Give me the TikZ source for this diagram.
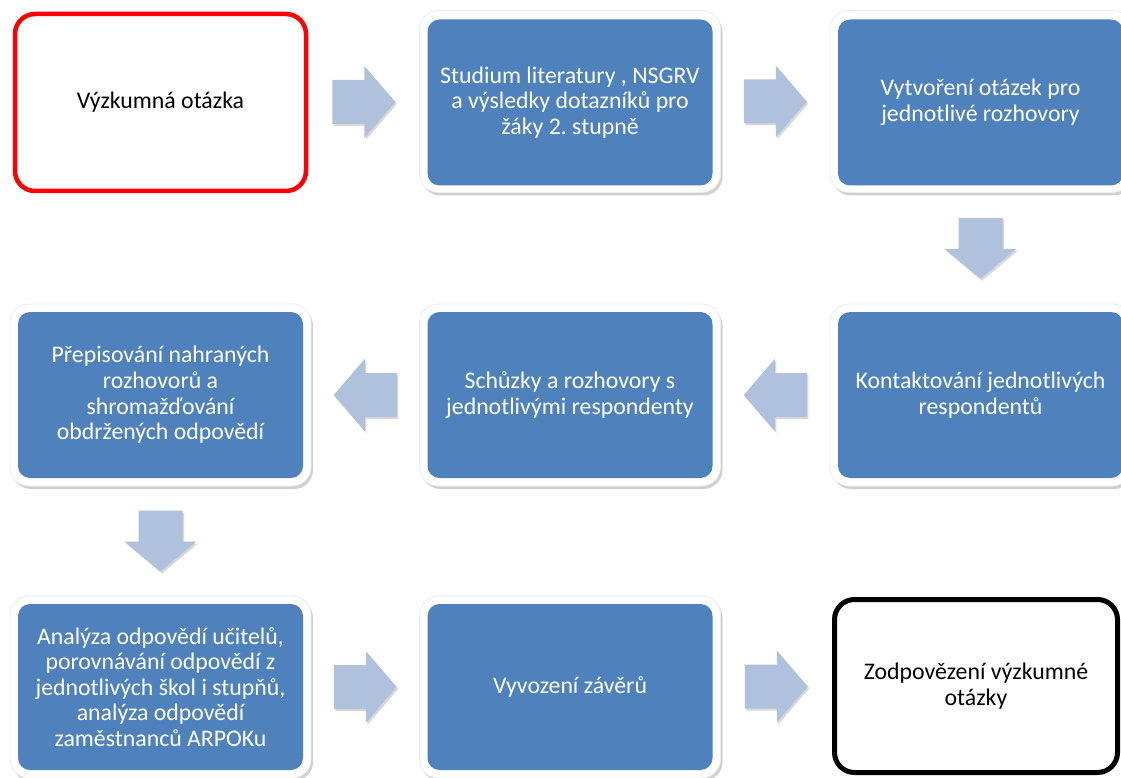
\documentclass[tikz,border=0pt]{standalone}
\usepackage{fontspec}
\setmainfont{Carlito}
\frenchspacing
\usetikzlibrary{shadows,calc}
\definecolor{boxblue}{RGB}{79,129,189}
\definecolor{arrblue}{RGB}{176,193,222}
\definecolor{redline}{RGB}{255,0,0}
\tikzset{
  txt/.style={font=\fontsize{23.8}{25.6}\selectfont, align=center},
  frame/.style={fill=white, draw=black!7, line width=0.8pt, rounded corners=19pt, minimum width=301pt, minimum height=182pt, inner sep=0pt, outer sep=0pt,
     drop shadow={shadow xshift=2pt, shadow yshift=-3pt, opacity=0.3, fill=black!60}},
  bluebox/.style={txt, fill=boxblue, draw=none, rounded corners=12pt, minimum width=285pt, minimum height=166pt, inner sep=0pt, outer sep=0pt, text=white},
  redbox/.style={txt, draw=redline, line width=4.5pt, fill=white, rounded corners=20pt, minimum width=291pt, minimum height=177pt, inner sep=0pt},
  blackbox/.style={txt, draw=black, line width=5pt, fill=white, rounded corners=20pt, minimum width=283pt, minimum height=173pt, inner sep=0pt},
  arr/.style={fill=arrblue, draw=none, drop shadow={shadow xshift=1.5pt, shadow yshift=-2pt, opacity=0.25, fill=black!60}},
  rarr/.pic={\path[arr] (-31.5,-22) -- (0.5,-22) -- (0.5,-36) -- (31.5,0) -- (0.5,36) -- (0.5,22) -- (-31.5,22) -- cycle;},
  larr/.pic={\path[arr] (31.5,-22) -- (-0.5,-22) -- (-0.5,-36) -- (-31.5,0) -- (-0.5,36) -- (-0.5,22) -- (31.5,22) -- cycle;},
  darr/.pic={\path[arr] (-22,-30.5) -- (-22,0.5) -- (-36,0.5) -- (0,30.5) -- (36,0.5) -- (22,0.5) -- (22,-30.5) -- cycle;}
}
\begin{document}
\begin{tikzpicture}[x=1pt,y=-1pt]
\useasboundingbox[fill=white] (0,0) rectangle (1121,778);
% row 1
\node[redbox] (b1) at (160.5,102.5) {Výzkumná otázka};
\node[frame] (f2) at (570,101.5) {};
\node[bluebox] (b2) at (570,102.5) {Studium literatury , NSGRV\\ a výsledky dotazníků pro\\ žáky 2. stupně};
\node[frame] (f3) at (980.5,101.5) {};
\node[bluebox] (b3) at (980.5,102.5) {Vytvoření otázek pro\\ jednotlivé rozhovory};
% row 2
\node[frame] (f4) at (980.5,395) {};
\node[bluebox] (b4) at (980.5,395) {Kontaktování jednotlivých\\ respondentů};
\node[frame] (f5) at (570,395) {};
\node[bluebox] (b5) at (570,395) {Schůzky a rozhovory s\\ jednotlivými respondenty};
\node[frame] (f6) at (160.5,395) {};
\node[bluebox] (b6) at (160.5,395) {Přepisování nahraných\\ rozhovorů a\\ shromažďování\\ obdržených odpovědí};
% row 3
\node[frame] (f7) at (160.5,687) {};
\node[bluebox] (b7) at (160.5,687) {Analýza odpovědí učitelů,\\ porovnávání odpovědí z\\ jednotlivých škol i stupňů,\\ analýza odpovědí\\ zaměstnanců ARPOKu};
\node[frame] (f8) at (570,687) {};
\node[bluebox] (b8) at (570,687) {Vyvození závěrů};
\node[blackbox] (b9) at (976,686) {Zodpovězení výzkumné\\ otázky};
% arrows
\pic at ($(b1.east)!0.5!(f2.west)$) {rarr};
\pic at ($(f2.east)!0.5!(f3.west)$) {rarr};
\pic at ($(f3.south)!0.5!(f4.north)$) {darr};
\pic at ($(f4.west)!0.5!(f5.east)$) {larr};
\pic at ($(f5.west)!0.5!(f6.east)$) {larr};
\pic at ($(f6.south)!0.5!(f7.north)$) {darr};
\pic at ($(f7.east)!0.5!(f8.west)$) {rarr};
\pic at ($(f8.east)!0.5!(b9.west)$) {rarr};
\end{tikzpicture}
\end{document}
